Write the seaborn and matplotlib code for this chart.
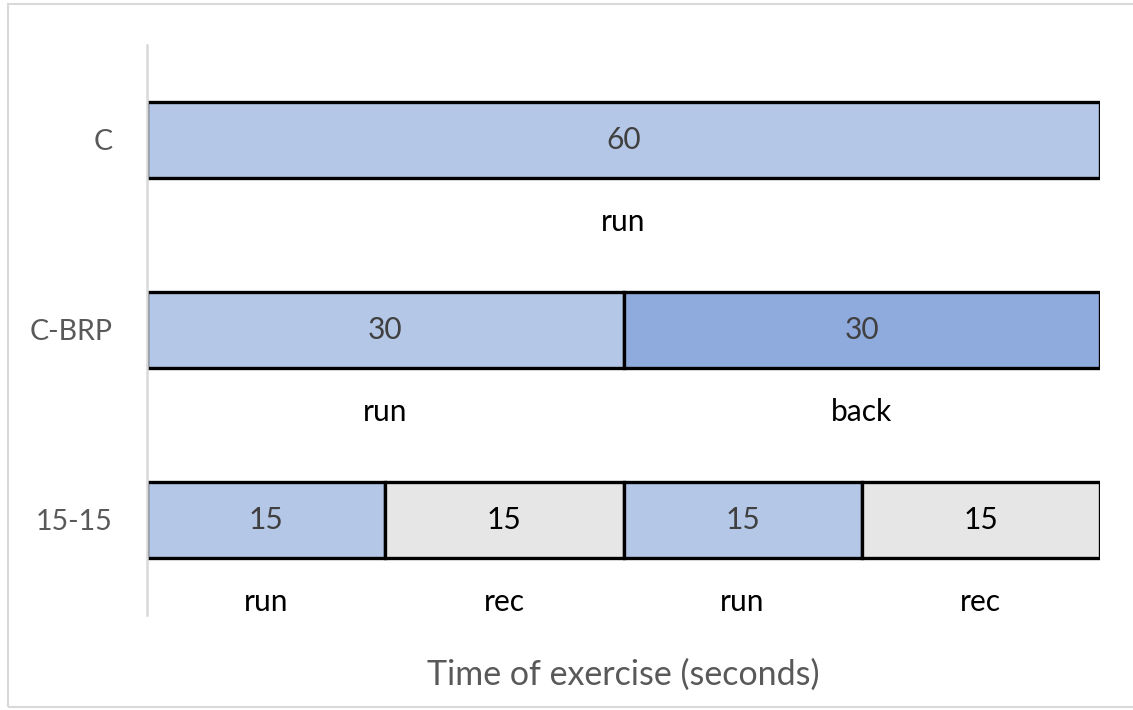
import numpy as np
import pandas as pd
import matplotlib
matplotlib.use("Agg")
import matplotlib.pyplot as plt
import matplotlib.patches as mpatches
import seaborn as sns

# ---- data ----
categories = ["C", "C-BRP", "15-15"]
seg_category = ["C", "C-BRP", "C-BRP", "15-15", "15-15", "15-15", "15-15"]
seg_duration = [60, 30, 30, 15, 15, 15, 15]
seg_label = ["run", "run", "back", "run", "rec", "run", "rec"]
axis_title = "Time of exercise (seconds)"

# ---- styling ----
color_map = {"run": "#B4C7E7", "back": "#8FAADC", "rec": "#E7E6E6"}
value_color = {"run": "#404040", "back": "#404040", "rec": "#000000"}

sns.set_theme(style="white")
plt.rcParams["font.family"] = ["Lato", "DejaVu Sans"]

df = pd.DataFrame({"category": seg_category, "duration": seg_duration, "label": seg_label})
df["start"] = df.groupby("category")["duration"].cumsum() - df["duration"]

fig = plt.figure(figsize=(11.33, 7.10), dpi=100)
ax = fig.add_axes([147 / 1133, 1 - 615 / 710, (1100 - 147) / 1133, (615 - 45) / 710])

for i, row in df.iterrows():
    sns.barplot(data=df.iloc[[i]], x="duration", y="category", order=categories,
                orient="h", width=0.4, color=color_map[row["label"]],
                edgecolor="black", linewidth=2.4, left=row["start"],
                saturation=1, ax=ax, zorder=2)
    ypos = categories.index(row["category"])
    xc = row["start"] + row["duration"] / 2
    ax.text(xc, ypos, f"{row['duration']}", ha="center", va="center",
            fontsize=21.5, color=value_color[row["label"]], zorder=3)
    ax.text(xc, ypos + 0.43, row["label"], ha="center", va="center",
            fontsize=21.5, color="black", zorder=3)

ax.set_xlim(0, 60)
ax.set_ylim(2.5, -0.5)
ax.set_xticks([])
ax.set_xlabel("")
ax.set_ylabel("")
for s in ["top", "right", "bottom"]:
    ax.spines[s].set_visible(False)
ax.spines["left"].set_color("#D9D9D9")
ax.spines["left"].set_linewidth(1.8)
ax.spines["left"].set_zorder(5)
ax.tick_params(axis="y", length=0, pad=25, labelsize=20.5, labelcolor="#595959")

fig.text(623 / 1133, 1 - 675 / 710, axis_title, ha="center", va="center",
         fontsize=24.5, color="#595959")

border = mpatches.Rectangle((8 / 1133, 1 - 707 / 710), 1.2, (707 - 4) / 710,
                            transform=fig.transFigure, fill=False,
                            edgecolor="#D9D9D9", linewidth=1.5)
fig.patches.append(border)

fig.savefig("out.png", dpi=100, facecolor="white")
